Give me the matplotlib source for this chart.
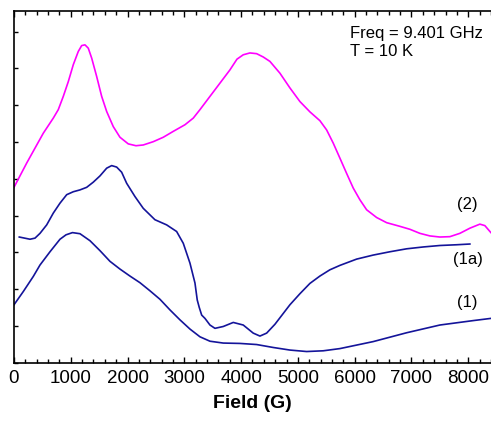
import matplotlib
matplotlib.use("Agg")
import matplotlib.pyplot as plt
from matplotlib.ticker import MultipleLocator, NullFormatter

plt.rcParams["font.family"] = ["Liberation Sans", "DejaVu Sans"]

# curve (2), magenta
field_2 = [0, 224, 516, 692, 780, 868, 956, 1044, 1132, 1192, 1250, 1308,
           1368, 1456, 1544, 1632, 1748, 1866, 2012, 2148, 2276, 2453, 2629,
           2805, 3011, 3157, 3275, 3451, 3627, 3803, 3926, 4037, 4155, 4273,
           4389, 4507, 4683, 4859, 5035, 5211, 5387, 5505, 5622, 5740, 5857,
           5974, 6092, 6210, 6386, 6562, 6796, 6972, 7148, 7324, 7500, 7676,
           7852, 8028, 8204, 8292, 8398]
signal_2 = [4.77, 5.43, 6.24, 6.65, 6.88, 7.24, 7.64, 8.10, 8.46, 8.62, 8.64,
            8.55, 8.28, 7.78, 7.24, 6.83, 6.42, 6.13, 5.95, 5.90, 5.92, 6.01,
            6.13, 6.29, 6.47, 6.65, 6.88, 7.24, 7.60, 7.96, 8.25, 8.37, 8.42,
            8.40, 8.31, 8.19, 7.87, 7.47, 7.10, 6.82, 6.58, 6.33, 5.97, 5.56,
            5.15, 4.75, 4.43, 4.16, 3.95, 3.81, 3.71, 3.63, 3.52, 3.45, 3.42,
            3.43, 3.52, 3.66, 3.77, 3.73, 3.54]

# curve (1a)
field_1a = [93, 282, 370, 458, 576, 692, 810, 928, 1044, 1162, 1280, 1396,
            1514, 1632, 1720, 1808, 1896, 1984, 2130, 2276, 2482, 2688, 2864,
            2981, 3099, 3187, 3227, 3262, 3305, 3363, 3451, 3539, 3685, 3861,
            4037, 4213, 4331, 4449, 4595, 4859, 5035, 5211, 5387, 5563, 5740,
            6033, 6326, 6620, 6914, 7206, 7500, 7794, 8028]
signal_1a = [3.42, 3.36, 3.39, 3.52, 3.75, 4.07, 4.34, 4.57, 4.65, 4.70, 4.77,
             4.91, 5.08, 5.29, 5.36, 5.32, 5.18, 4.88, 4.52, 4.20, 3.89, 3.75,
             3.57, 3.25, 2.71, 2.17, 1.71, 1.51, 1.30, 1.21, 1.03, 0.94, 0.99,
             1.10, 1.03, 0.81, 0.73, 0.81, 1.05, 1.58, 1.88, 2.16, 2.36, 2.53,
             2.65, 2.82, 2.93, 3.02, 3.10, 3.15, 3.19, 3.21, 3.23]

# curve (1)
field_1 = [0, 164, 340, 458, 634, 810, 916, 1030, 1162, 1338, 1514, 1690,
           1866, 2042, 2218, 2394, 2570, 2747, 2923, 3099, 3275, 3451, 3685,
           3979, 4273, 4565, 4859, 5153, 5446, 5740, 6326, 6914, 7500, 8086,
           8398]
signal_1 = [1.58, 1.94, 2.35, 2.66, 3.02, 3.36, 3.48, 3.54, 3.51, 3.32, 3.05,
            2.76, 2.55, 2.36, 2.18, 1.96, 1.73, 1.44, 1.17, 0.92, 0.71, 0.59,
            0.54, 0.53, 0.50, 0.42, 0.35, 0.31, 0.33, 0.39, 0.58, 0.82, 1.03,
            1.15, 1.21]

fig = plt.figure(figsize=(4.91, 4.24), dpi=100)
ax = fig.add_axes([0.0285, 0.144, 0.9715, 0.831])

navy = "#14149a"
ax.plot(field_2, signal_2, color="#ff00ff", lw=1.2)
ax.plot(field_1a, signal_1a, color=navy, lw=1.2)
ax.plot(field_1, signal_1, color=navy, lw=1.2)

ax.set_xlim(0, 8400)
ax.set_ylim(0, 9.57)
ax.xaxis.set_major_locator(MultipleLocator(1000))
ax.xaxis.set_minor_locator(MultipleLocator(200))
ax.yaxis.set_major_locator(MultipleLocator(1))
ax.yaxis.set_major_formatter(NullFormatter())
ax.tick_params(axis="x", which="both", direction="in", top=True,
               labelsize=13.5, pad=5)
ax.tick_params(axis="x", which="major", length=4, width=1)
ax.tick_params(axis="x", which="minor", length=3, width=1)
ax.tick_params(axis="y", which="major", direction="in", length=3, width=1)
ax.spines["right"].set_visible(False)
for s in ("left", "bottom", "top"):
    ax.spines[s].set_linewidth(1.2)

ax.set_xlabel("Field (G)", fontsize=14, fontweight="bold", labelpad=6)

ax.text(0.704, 0.955, "Freq = 9.401 GHz\nT = 10 K", transform=ax.transAxes,
        fontsize=12, va="top", ha="left", linespacing=1.2)
ax.text(7990, 4.30, "(2)", fontsize=12, ha="center", va="center")
ax.text(7990, 2.80, "(1a)", fontsize=12, ha="center", va="center")
ax.text(7990, 1.63, "(1)", fontsize=12, ha="center", va="center")

fig.savefig("out.png", dpi=100)
